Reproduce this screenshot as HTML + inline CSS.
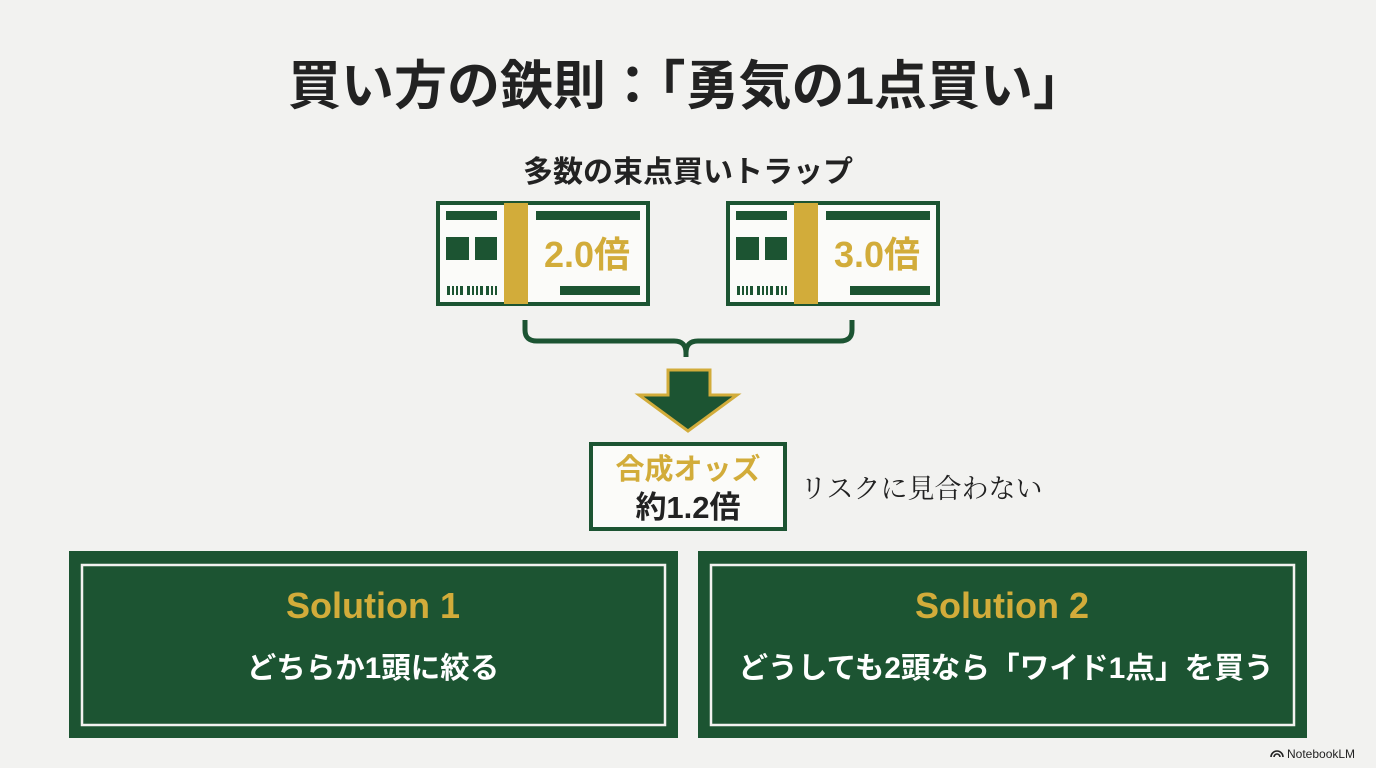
<!DOCTYPE html>
<html><head><meta charset="utf-8"><style>
body{margin:0;width:1376px;height:768px;background:#f2f2f0;overflow:hidden;font-family:"Liberation Sans","Noto Sans CJK JP",sans-serif}
svg{position:absolute;left:0;top:0}
</style></head><body>
<svg width="1376" height="768" viewBox="0 0 1376 768" xmlns="http://www.w3.org/2000/svg" font-family="Liberation Sans, Noto Sans CJK JP, sans-serif">
<text x="687" y="104" text-anchor="middle" font-size="53" font-weight="bold" fill="#222">買い方の鉄則：「勇気の1点買い」</text>
<text x="688" y="182" text-anchor="middle" font-size="30" font-weight="bold" fill="#222">多数の束点買いトラップ</text>
<g id="t1">
<rect x="438" y="203" width="210" height="101" fill="#fbfbf9" stroke="#1c5432" stroke-width="4"/>
<rect x="504" y="203" width="24" height="101" fill="#d2ac3a"/>
<rect x="446" y="211" width="51" height="9" fill="#1c5432"/>
<rect x="446" y="237" width="23" height="23" fill="#1c5432"/>
<rect x="475" y="237" width="22" height="23" fill="#1c5432"/>
<g fill="#1c5432"><rect x="447" y="286" width="3" height="9"/><rect x="452" y="286" width="2" height="9"/><rect x="456" y="286" width="2" height="9"/><rect x="460" y="286" width="3" height="9"/><rect x="467" y="286" width="3" height="9"/><rect x="472" y="286" width="2" height="9"/><rect x="476" y="286" width="2" height="9"/><rect x="480" y="286" width="3" height="9"/><rect x="486" y="286" width="3" height="9"/><rect x="491" y="286" width="2" height="9"/><rect x="495" y="286" width="2" height="9"/></g>
<rect x="536" y="211" width="104" height="9" fill="#1c5432"/>
<rect x="560" y="286" width="80" height="9" fill="#1c5432"/>
</g>
<use href="#t1" x="290"/>
<text x="587" y="267" text-anchor="middle" font-size="36" font-weight="bold" fill="#d2ac3a">2.0倍</text>
<text x="877" y="267" text-anchor="middle" font-size="36" font-weight="bold" fill="#d2ac3a">3.0倍</text>
<path d="M525 320 V330 Q525 341 537 341 H674 Q686 341 686 353 V357 M852 320 V330 Q852 341 840 341 H698 Q686 341 686 353" fill="none" stroke="#1c5432" stroke-width="5"/>
<path d="M668 370 H710 V395 H737 L688 431 L639 395 H668 Z" fill="#1c5432" stroke="#d2ac3a" stroke-width="3" stroke-linejoin="miter"/>
<rect x="591" y="444" width="194" height="85" fill="#fbfbf9" stroke="#1c5432" stroke-width="4"/>
<text x="688" y="479" text-anchor="middle" font-size="29" font-weight="bold" fill="#d2ac3a">合成オッズ</text>
<text x="688" y="518" text-anchor="middle" font-size="31" font-weight="bold" fill="#222">約1.2倍</text>
<text x="800" y="498" font-size="27" fill="#222" font-family="Liberation Serif, Noto Serif CJK SC, serif">リスクに見合わない</text>
<rect x="69" y="551" width="609" height="187" fill="#1c5432"/>
<rect x="82" y="565" width="583" height="160" fill="none" stroke="#f2f2f0" stroke-width="2.5"/>
<rect x="698" y="551" width="609" height="187" fill="#1c5432"/>
<rect x="711" y="565" width="583" height="160" fill="none" stroke="#f2f2f0" stroke-width="2.5"/>
<text x="373" y="618" text-anchor="middle" font-size="36" font-weight="bold" fill="#d2ac3a">Solution 1</text>
<text x="373" y="678" text-anchor="middle" font-size="29.5" font-weight="bold" fill="#fff">どちらか1頭に絞る</text>
<text x="1002" y="618" text-anchor="middle" font-size="36" font-weight="bold" fill="#d2ac3a">Solution 2</text>
<text x="1006" y="678" text-anchor="middle" font-size="29.7" font-weight="bold" fill="#fff">どうしても2頭なら「ワイド1点」を買う</text>
<path d="M1271 757 A6 6 0 0 1 1283 757 M1274 757 A3 3 0 0 1 1280 757" fill="none" stroke="#222" stroke-width="1.6"/>
<text x="1287" y="758" font-size="12" fill="#222">NotebookLM</text>
</svg>
</body></html>
